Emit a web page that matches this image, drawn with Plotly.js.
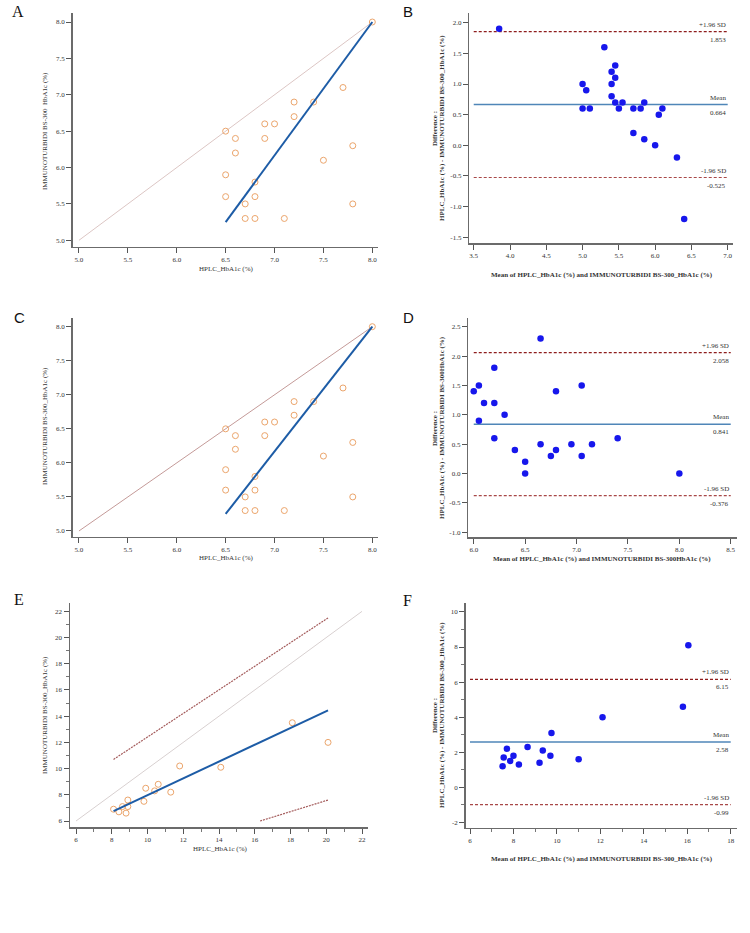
<!DOCTYPE html>
<html>
<head>
<meta charset="utf-8">
<script src="https://cdn.plot.ly/plotly-3.0.1.min.js"></script>
<style>
  html, body { margin: 0; padding: 0; background: #ffffff; }
  #chart { width: 750px; height: 933px; }
</style>
</head>
<body>
<div id="chart"></div>
<script>
// ---------- Panel A: HPLC vs immunoturbidimetry (scatter) ----------
const hplcA   = [8.0, 7.7, 7.2, 7.4, 7.2, 6.9, 7.0, 6.5, 6.6, 6.9, 7.8, 6.6, 7.5, 6.5, 6.8, 6.5, 6.8, 6.7, 7.8, 6.7, 6.8, 7.1];
const immunoA = [8.0, 7.1, 6.9, 6.9, 6.7, 6.6, 6.6, 6.5, 6.4, 6.4, 6.3, 6.2, 6.1, 5.9, 5.8, 5.6, 5.6, 5.5, 5.5, 5.3, 5.3, 5.3];
const fitAx = [6.5, 8.0];
const fitAy = [5.25, 8.0];
const identAx = [5.0, 8.0];
const identAy = [5.0, 8.0];
const ticksA = [5.0, 5.5, 6.0, 6.5, 7.0, 7.5, 8.0];

// ---------- Panel B: Bland-Altman ----------
const meanB = [3.85, 5.3, 5.45, 5.4, 5.45, 5.0, 5.4, 5.05, 5.4, 5.45, 5.55, 5.85, 5.0, 5.1, 5.5, 5.7, 5.8, 6.1, 6.05, 5.7, 5.85, 6.0, 6.3, 6.4];
const diffB = [1.9, 1.6, 1.3, 1.2, 1.1, 1.0, 1.0, 0.9, 0.8, 0.7, 0.7, 0.7, 0.6, 0.6, 0.6, 0.6, 0.6, 0.6, 0.5, 0.2, 0.1, 0.0, -0.2, -1.2];
const limitsB = [1.853, 0.664, -0.525];   // +1.96 SD, mean, -1.96 SD
const spanB = [3.5, 7.0];
const ticksBx = [3.5, 4.0, 4.5, 5.0, 5.5, 6.0, 6.5, 7.0];
const ticksBy = [-1.5, -1.0, -0.5, 0.0, 0.5, 1.0, 1.5, 2.0];

// ---------- Panel C: HPLC vs immunoturbidimetry (scatter) ----------
const hplcC   = [8.0, 7.7, 7.2, 7.4, 7.2, 6.9, 7.0, 6.5, 6.6, 6.9, 7.8, 6.6, 7.5, 6.5, 6.8, 6.5, 6.8, 6.7, 7.8, 6.7, 6.8, 7.1];
const immunoC = [8.0, 7.1, 6.9, 6.9, 6.7, 6.6, 6.6, 6.5, 6.4, 6.4, 6.3, 6.2, 6.1, 5.9, 5.8, 5.6, 5.6, 5.5, 5.5, 5.3, 5.3, 5.3];
const fitCx = [6.5, 8.0];
const fitCy = [5.25, 8.0];
const identCx = [5.0, 8.0];
const identCy = [5.0, 8.0];
const ticksC = [5.0, 5.5, 6.0, 6.5, 7.0, 7.5, 8.0];

// ---------- Panel D: Bland-Altman ----------
const meanD = [8.0, 7.4, 7.05, 7.15, 6.95, 6.75, 6.8, 6.5, 6.5, 6.65, 7.05, 6.4, 6.8, 6.2, 6.3, 6.05, 6.2, 6.1, 6.65, 6.0, 6.05, 6.2];
const diffD = [0.0, 0.6, 0.3, 0.5, 0.5, 0.3, 0.4, 0.0, 0.2, 0.5, 1.5, 0.4, 1.4, 0.6, 1.0, 0.9, 1.2, 1.2, 2.3, 1.4, 1.5, 1.8];
const limitsD = [2.058, 0.841, -0.376];
const spanD = [6.0, 8.5];
const ticksDx = [6.0, 6.5, 7.0, 7.5, 8.0, 8.5];
const ticksDy = [-1.0, -0.5, 0.0, 0.5, 1.0, 1.5, 2.0, 2.5];

// ---------- Panel E: HPLC vs immunoturbidimetry (scatter) ----------
const hplcE   = [8.1, 8.4, 8.8, 8.6, 8.9, 8.9, 9.8, 9.9, 10.4, 10.6, 11.3, 11.8, 14.1, 18.1, 20.1];
const immunoE = [6.9, 6.7, 6.6, 7.1, 7.1, 7.6, 7.5, 8.5, 8.3, 8.8, 8.2, 10.2, 10.1, 13.5, 12.0];
const fitEx = [8.1, 20.1];
const fitEy = [6.75, 14.45];
const upperEx = [8.1, 20.1];
const upperEy = [10.7, 21.5];
const lowerEx = [16.3, 20.1];
const lowerEy = [6.0, 7.6];
const identEx = [6, 22];
const identEy = [6, 22];
const ticksE = [6, 8, 10, 12, 14, 16, 18, 20, 22];

// ---------- Panel F: Bland-Altman ----------
const meanF = [7.5, 7.55, 7.7, 7.85, 8.0, 8.25, 8.65, 9.2, 9.35, 9.7, 9.75, 11.0, 12.1, 15.8, 16.05];
const diffF = [1.2, 1.7, 2.2, 1.5, 1.8, 1.3, 2.3, 1.4, 2.1, 1.8, 3.1, 1.6, 4.0, 4.6, 8.1];
const limitsF = [6.15, 2.58, -0.99];
const spanF = [6, 18];
const ticksFx = [6, 8, 10, 12, 14, 16, 18];
const ticksFy = [-2, 0, 2, 4, 6, 8, 10];

// ---------- shared styling ----------
const W = 750, H = 933;
const SERIF = 'Liberation Serif, Times New Roman, serif';
const SANS = 'Liberation Sans, Arial, sans-serif';
const TXT = '#333333';
const ORANGE = '#eba56c';
const FITBLUE = '#1d5ca6';
const DOTBLUE = '#1717ec';
const MEANBLUE = '#4f86b8';
const SDRED = '#8e1d1d';
const SDRED2 = '#a84848';

const fx = p => p / W;
const fy = p => 1 - p / H;

function axis(pxA, pxB, range, vals, dec, anchor, isY, minor) {
  const a = {
    domain: isY ? [fy(pxB), fy(pxA)] : [fx(pxA), fx(pxB)],
    range: range,
    anchor: anchor,
    tickmode: 'array',
    tickvals: vals,
    ticktext: vals.map(v => v.toFixed(dec)),
    showline: true, linecolor: '#6b6b6b', linewidth: 1.5,
    ticks: 'outside', ticklen: 5, tickwidth: 1, tickcolor: '#555555',
    showgrid: false, zeroline: false, automargin: false, fixedrange: true,
    tickfont: { family: SERIF, size: 7, color: TXT }
  };
  if (minor) {
    a.minor = { tickmode: 'linear', tick0: 0, dtick: 1, ticks: 'outside', ticklen: 3, tickwidth: 1, tickcolor: '#777777' };
  }
  return a;
}

function line(x, y, xa, ya, color, width, dash) {
  return { type: 'scatter', mode: 'lines', x: x, y: y, xaxis: xa, yaxis: ya,
           line: { color: color, width: width, dash: dash || 'solid' }, hoverinfo: 'skip', cliponaxis: true };
}
function openPts(x, y, xa, ya) {
  return { type: 'scatter', mode: 'markers', x: x, y: y, xaxis: xa, yaxis: ya,
           marker: { symbol: 'circle-open', size: 6, color: ORANGE, line: { width: 1, color: ORANGE } }, hoverinfo: 'skip' };
}
function filledPts(x, y, xa, ya) {
  return { type: 'scatter', mode: 'markers', x: x, y: y, xaxis: xa, yaxis: ya,
           marker: { symbol: 'circle', size: 6.5, color: DOTBLUE }, hoverinfo: 'skip' };
}
function limitLines(span, lim, xa, ya) {
  return [
    line(span, [lim[0], lim[0]], xa, ya, SDRED, 1.2, '3px,2px'),
    line(span, [lim[1], lim[1]], xa, ya, MEANBLUE, 1.5),
    line(span, [lim[2], lim[2]], xa, ya, SDRED2, 1.2, '3px,2px')
  ];
}
function limitLabels(span, lim, xr, yr) {
  const names = ['+1.96 SD', 'Mean', '-1.96 SD'];
  const out = [];
  lim.forEach((v, i) => {
    out.push({ xref: xr, yref: yr, x: span[1], y: v, text: names[i], showarrow: false,
               xanchor: 'right', yanchor: 'bottom', yshift: 1, font: { family: SERIF, size: 7, color: TXT } });
    out.push({ xref: xr, yref: yr, x: span[1], y: v, text: String(v), showarrow: false,
               xanchor: 'right', yanchor: 'top', yshift: -2, font: { family: SERIF, size: 7, color: TXT } });
  });
  return out;
}
function paperText(text, px, py, size, family, angle, xanchor) {
  return { xref: 'paper', yref: 'paper', x: fx(px), y: fy(py), text: text, showarrow: false,
           xanchor: xanchor || 'center', yanchor: 'middle', textangle: angle || 0,
           font: { family: family, size: size, color: angle === undefined ? '#111' : TXT } };
}

const traces = [
  // A
  line(identAx, identAy, 'x', 'y', '#dcc6c4', 1),
  openPts(hplcA, immunoA, 'x', 'y'),
  line(fitAx, fitAy, 'x', 'y', FITBLUE, 2),
  // B
  ...limitLines(spanB, limitsB, 'x2', 'y2'),
  filledPts(meanB, diffB, 'x2', 'y2'),
  // C
  line(identCx, identCy, 'x3', 'y3', '#c49a98', 1),
  openPts(hplcC, immunoC, 'x3', 'y3'),
  line(fitCx, fitCy, 'x3', 'y3', FITBLUE, 2),
  // D
  ...limitLines(spanD, limitsD, 'x4', 'y4'),
  filledPts(meanD, diffD, 'x4', 'y4'),
  // E
  line(identEx, identEy, 'x5', 'y5', '#d8d0d0', 1),
  line(upperEx, upperEy, 'x5', 'y5', '#a45c5c', 1.2, '2px,1px'),
  line(lowerEx, lowerEy, 'x5', 'y5', '#a45c5c', 1.2, '2px,1px'),
  openPts(hplcE, immunoE, 'x5', 'y5'),
  line(fitEx, fitEy, 'x5', 'y5', FITBLUE, 2),
  // F
  ...limitLines(spanF, limitsF, 'x6', 'y6'),
  filledPts(meanF, diffF, 'x6', 'y6')
];

const B = s => '<b>' + s + '</b>';
const annotations = [
  // panel letters
  paperText('A', 10, 11, 16, SERIF, undefined, 'left'),
  paperText('B', 401, 12, 15, SANS, undefined, 'left'),
  paperText('C', 12, 318, 15, SANS, undefined, 'left'),
  paperText('D', 401, 318, 15, SANS, undefined, 'left'),
  paperText('E', 12, 599, 16, SERIF, undefined, 'left'),
  paperText('F', 401, 600, 16, SERIF, undefined, 'left'),
  // A titles
  paperText('HPLC_HbA1c (%)', 226, 269, 7, SERIF, 0),
  paperText('IMMUNOTURBIDI BS-300  HbA1c (%)', 45, 131, 7, SERIF, -90),
  // B titles
  paperText(B('Mean of HPLC_HbA1c (%) and IMMUNOTURBIDI BS-300_HbA1c (%)'), 602, 275, 7, SERIF, 0),
  paperText(B('Difference :'), 435, 128, 7, SERIF, -90),
  paperText(B('HPLC_HbA1c (%) - IMMUNOTURBIDI BS-300_HbA1c (%)'), 442, 128, 7, SERIF, -90),
  // C titles
  paperText('HPLC_HbA1c (%)', 226, 558, 7, SERIF, 0),
  paperText('IMMUNOTURBIDI BS-300_HbA1c (%)', 45, 426, 7, SERIF, -90),
  // D titles
  paperText(B('Mean of HPLC_HbA1c (%) and IMMUNOTURBIDI BS-300HbA1c (%)'), 602, 559, 7, SERIF, 0),
  paperText(B('Difference :'), 435, 428, 7, SERIF, -90),
  paperText(B('HPLC_HbA1c (%) - IMMUNOTURBIDI BS-300HbA1c (%)'), 442, 428, 7, SERIF, -90),
  // E titles
  paperText('HPLC_HbA1c (%)', 220, 849, 7, SERIF, 0),
  paperText('IMMUNOTURBIDI BS-300_HbA1c (%)', 45, 715, 7, SERIF, -90),
  // F titles
  paperText(B('Mean of HPLC_HbA1c (%) and IMMUNOTURBIDI BS-300_HbA1c (%)'), 602, 859, 7, SERIF, 0),
  paperText(B('Difference :'), 435, 715, 7, SERIF, -90),
  paperText(B('HPLC_HbA1c (%) - IMMUNOTURBIDI BS-300_HbA1c (%)'), 442, 715, 7, SERIF, -90),
  // limits of agreement labels
  ...limitLabels(spanB, limitsB, 'x2', 'y2'),
  ...limitLabels(spanD, limitsD, 'x4', 'y4'),
  ...limitLabels(spanF, limitsF, 'x6', 'y6')
];

const layout = {
  width: W, height: H,
  margin: { l: 0, r: 0, t: 0, b: 0 },
  paper_bgcolor: '#ffffff', plot_bgcolor: '#ffffff',
  showlegend: false,
  xaxis:  axis(72.7, 378, [4.936, 8.058], ticksA, 1, 'y', false),
  yaxis:  axis(13, 246.7, [4.912, 8.124], ticksA, 1, 'x', true),
  xaxis2: axis(469.3, 733.3, [3.439, 7.077], ticksBx, 1, 'y2', false),
  yaxis2: axis(13.3, 243.3, [-1.598, 2.153], ticksBy, 1, 'x2', true),
  xaxis3: axis(72.7, 378, [4.936, 8.058], ticksC, 1, 'y3', false),
  yaxis3: axis(318.3, 536.7, [4.916, 8.123], ticksC, 1, 'x3', true),
  xaxis4: axis(468.3, 736.7, [5.947, 8.558], ticksDx, 1, 'y4', false),
  yaxis4: axis(318.3, 537.3, [-1.085, 2.643], ticksDy, 1, 'x4', true),
  xaxis5: axis(70, 367.7, [5.664, 22.319], ticksE, 0, 'y5', false, true),
  yaxis5: axis(602.7, 827, [5.542, 22.66], ticksE, 0, 'x5', true, true),
  xaxis6: axis(465.7, 736.7, [5.802, 18.276], ticksFx, 0, 'y6', false, true),
  yaxis6: axis(602.7, 827.7, [-2.308, 10.53], ticksFy, 0, 'x6', true, true),
  annotations: annotations
};

Plotly.newPlot('chart', traces, layout, { staticPlot: true, displayModeBar: false });
</script>
</body>
</html>
